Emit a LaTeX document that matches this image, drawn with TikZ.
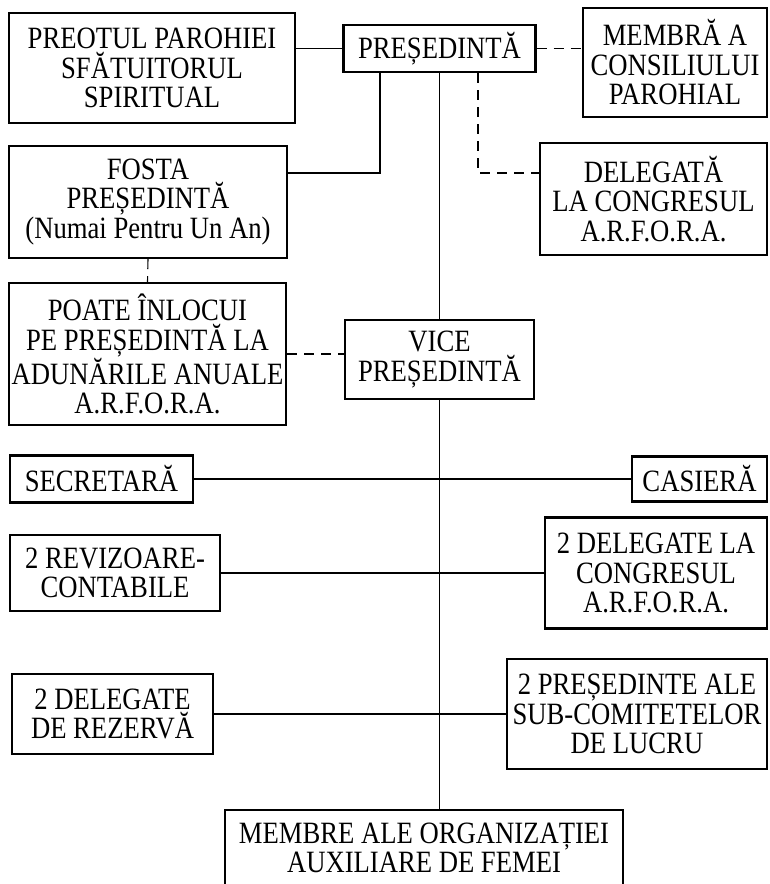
\documentclass[tikz,border=0pt]{standalone}
\usepackage{fontspec}
\setmainfont{Liberation Serif}[FakeStretch=0.86]
\usepackage{tikz}
\usetikzlibrary{positioning}

\begin{document}
\begin{tikzpicture}[x=1pt,y=1pt,yscale=-1,xscale=1,
  office/.style={draw, line width=2.3pt, inner sep=0pt, align=center,
    font=\fontsize{31}{29.5}\selectfont},
  link/.style={line width=1.1pt},
  dlink/.style={line width=1.1pt, dash pattern=on 10pt off 7pt}]
\useasboundingbox (0,0) rectangle (769,884);
\clip (0,0) rectangle (769,884);

%Shape: Rectangle [id:preot]
\node [office, minimum width=286, minimum height=110] (preot) at (152,68) {PREOTUL PAROHIEI\\SFĂTUITORUL\\SPIRITUAL};
%Shape: Rectangle [id:pres]
\node [office, minimum width=192, minimum height=47] (pres) at (439.5,48.5) {PREȘEDINTĂ};
%Shape: Rectangle [id:membra]
\node [office, minimum width=184, minimum height=109] (membra) at (675,62.5) {MEMBRĂ A\\CONSILIULUI\\PAROHIAL};
%Shape: Rectangle [id:fosta]
\node [office, minimum width=278, minimum height=112] (fosta) at (148,202) {FOSTA\\PREȘEDINTĂ\\(Numai Pentru Un An)};
%Shape: Rectangle [id:delegata]
\node [office, minimum width=227, minimum height=112] (delegata) at (653.5,199) {DELEGATĂ\\LA CONGRESUL\\A.R.F.O.R.A.};
%Shape: Rectangle [id:poate]
\node [office, minimum width=277, minimum height=142] (poate) at (147.5,354) {POATE ÎNLOCUI\\PE PREȘEDINTĂ LA\\ADUNĂRILE ANUALE\\A.R.F.O.R.A.};
%Shape: Rectangle [id:vice]
\node [office, minimum width=189, minimum height=79] (vice) at (439.5,359.5) {VICE\\PREȘEDINTĂ};
%Shape: Rectangle [id:secret]
\node [office, minimum width=183, minimum height=47] (secret) at (101.5,479) {SECRETARĂ};
%Shape: Rectangle [id:casiera]
\node [office, minimum width=135, minimum height=45] (casiera) at (699.5,479) {CASIERĂ};
%Shape: Rectangle [id:reviz]
\node [office, minimum width=210, minimum height=76] (reviz) at (115,573) {2 REVIZOARE-\\CONTABILE};
%Shape: Rectangle [id:delcongr]
\node [office, minimum width=222, minimum height=111] (delcongr) at (656,573) {2 DELEGATE LA\\CONGRESUL\\A.R.F.O.R.A.};
%Shape: Rectangle [id:rezerva]
\node [office, minimum width=201, minimum height=80] (rezerva) at (112.5,714) {2 DELEGATE\\DE REZERVĂ};
%Shape: Rectangle [id:presub]
\node [office, minimum width=260, minimum height=110] (presub) at (637,714) {2 PREȘEDINTE ALE\\SUB-COMITETELOR\\DE LUCRU};
%Shape: Rectangle [id:membre]
\node [office, minimum width=398, minimum height=76] (membre) at (424,848) {MEMBRE ALE ORGANIZAȚIEI\\AUXILIARE DE FEMEI};

\coordinate (fknee) at (380,173);
\coordinate (dknee) at (478,173);

%Straight Lines [id:spine]
\draw [link] (pres.south) -- (vice.north);
\draw [link] (vice.south) -- (vice.south |- membre.north);
%Straight Lines [id:preot]
\draw [link] (pres.west) -- (pres.west -| preot.east);
%Straight Lines [id:fosta]
\draw [link] (pres.south -| fknee) -- (fknee) -- (fknee -| fosta.east);
%Straight Lines [id:membra]
\draw [dlink] (pres.east) -- (pres.east -| membra.west);
%Straight Lines [id:delegata]
\draw [dlink] (pres.south -| dknee) -- (dknee) -- (dknee -| delegata.west);
%Straight Lines [id:poate]
\draw [dlink] (fosta.south) -- (poate.north);
\draw [dlink] (poate.east) -- (poate.east -| vice.west);
%Straight Lines [id:rows]
\draw [link] (secret.east) -- (casiera.west);
\draw [link] (reviz.east) -- (delcongr.west);
\draw [link] (rezerva.east) -- (presub.west);

\end{tikzpicture}
\end{document}
